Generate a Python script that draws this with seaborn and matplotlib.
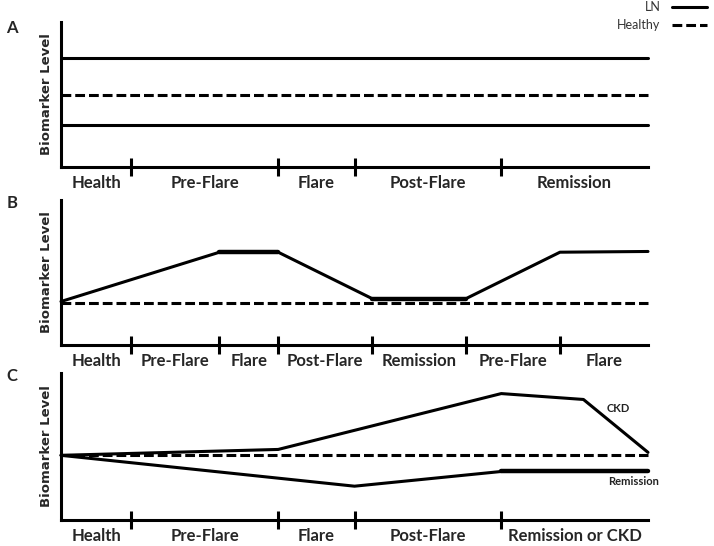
import numpy as np
import pandas as pd
import matplotlib
matplotlib.use("Agg")
import matplotlib.pyplot as plt
from matplotlib.lines import Line2D
import seaborn as sns

# phase boundaries (time units 0-100) and phase names
a_bounds = [12, 37, 50, 75]
a_phases = ["Health", "Pre-Flare", "Flare", "Post-Flare", "Remission"]
b_bounds = [12, 27, 37, 53, 69, 85]
b_phases = ["Health", "Pre-Flare", "Flare", "Post-Flare", "Remission", "Pre-Flare", "Flare"]
c_bounds = [12, 37, 50, 75]
c_phases = ["Health", "Pre-Flare", "Flare", "Post-Flare", "Remission or CKD"]

# panel A: constant levels
a_time = [0, 100]
a_ln_high = [75, 75]
a_healthy = [50, 50]
a_ln_low = [29, 29]

# panel B: flare cycle
b_time = [0, 27, 37, 53, 69, 85, 100]
b_ln = [30, 64, 64, 32, 32, 64, 64.5]
b_healthy = [29, 29]
b_plateaus = [(1, 3), (3, 5)]  # index ranges drawn heavier

# panel C: outcomes
c_ckd_time = [0, 37, 75, 89, 100]
c_ckd = [44, 48, 86, 82, 46]
c_rem_time = [0, 50, 75, 100]
c_rem = [44, 23, 33, 33]
c_healthy = [44, 44]

W, H = 714, 546
LW = 2.2
DASH = (0, (3.2, 1.3))

sns.set_style("white")
plt.rcParams["font.family"] = ["Lato", "DejaVu Sans"]

fig = plt.figure(figsize=(W / 100, H / 100), dpi=100)


def make_axes(top_px, bottom_px):
    left, right = 61, 648
    return fig.add_axes([left / W, (H - bottom_px) / H,
                         (right - left) / W, (bottom_px - top_px) / H])


def style_axes(ax, bounds, phases):
    ax.set_xlim(0, 100)
    ax.set_ylim(0, 100)
    sns.despine(ax=ax)
    for s in ["left", "bottom"]:
        ax.spines[s].set_linewidth(2.2)
        ax.spines[s].set_color("black")
    ax.set_yticks([])
    ax.set_xticks(bounds)
    ax.set_xticklabels([])
    edges = [0] + list(bounds) + [100]
    mids = [(edges[i] + edges[i + 1]) / 2 for i in range(len(phases))]
    ax.set_xticks(mids, minor=True)
    ax.set_xticklabels(phases, minor=True, fontsize=12, fontweight="bold")
    ax.tick_params(axis="x", which="major", direction="inout", length=13,
                   width=2.2, color="black", bottom=True)
    ax.tick_params(axis="x", which="minor", length=0, pad=6, bottom=True)
    ax.set_ylabel("Biomarker Level", family="DejaVu Sans", fontweight="bold",
                  fontsize=9.5, labelpad=6)
    ax.set_xlabel("")


def line(ax, x, y, lw=LW, ls="-"):
    sns.lineplot(x=x, y=y, ax=ax, color="black", linewidth=lw,
                 linestyle=ls, clip_on=False, sort=False)


# Panel A
ax_a = make_axes(22, 167)
line(ax_a, a_time, a_ln_high)
line(ax_a, a_time, a_healthy, ls=DASH)
line(ax_a, a_time, a_ln_low)
style_axes(ax_a, a_bounds, a_phases)

# Panel B
ax_b = make_axes(200, 345)
line(ax_b, [b_time[0], b_time[-1]], b_healthy, ls=DASH)
line(ax_b, b_time, b_ln)
for i0, i1 in b_plateaus:
    line(ax_b, b_time[i0:i1], b_ln[i0:i1], lw=3.2)
style_axes(ax_b, b_bounds, b_phases)

# Panel C
ax_c = make_axes(373, 520)
line(ax_c, [0, 100], c_healthy, ls=DASH)
line(ax_c, c_ckd_time, c_ckd)
line(ax_c, c_rem_time, c_rem)
line(ax_c, c_rem_time[2:], c_rem[2:], lw=3.2)
ax_c.text(95, 76, "CKD", fontsize=8, fontweight="bold", color="#222222",
          ha="center", va="center", clip_on=False)
ax_c.text(97.6, 26, "Remission", fontsize=8, fontweight="bold", color="#222222",
          ha="center", va="center", clip_on=False)
style_axes(ax_c, c_bounds, c_phases)

# panel letters
for letter, ypx in [("A", 28), ("B", 203), ("C", 376)]:
    fig.text(12 / W, 1 - ypx / H, letter, fontsize=12, fontweight="bold",
             ha="center", va="center")

# legend
handles = [Line2D([], [], color="black", lw=LW),
           Line2D([], [], color="black", lw=LW, linestyle=DASH)]
fig.legend(handles, ["LN", "Healthy"], loc="upper right",
           bbox_to_anchor=(1 - 6 / W, 1.0), markerfirst=False, frameon=False,
           fontsize=9, handlelength=2.8, labelspacing=0.45,
           handletextpad=0.9, borderaxespad=0.0, borderpad=0.1,
           labelcolor="#333333")

fig.savefig("out.png", dpi=100)
